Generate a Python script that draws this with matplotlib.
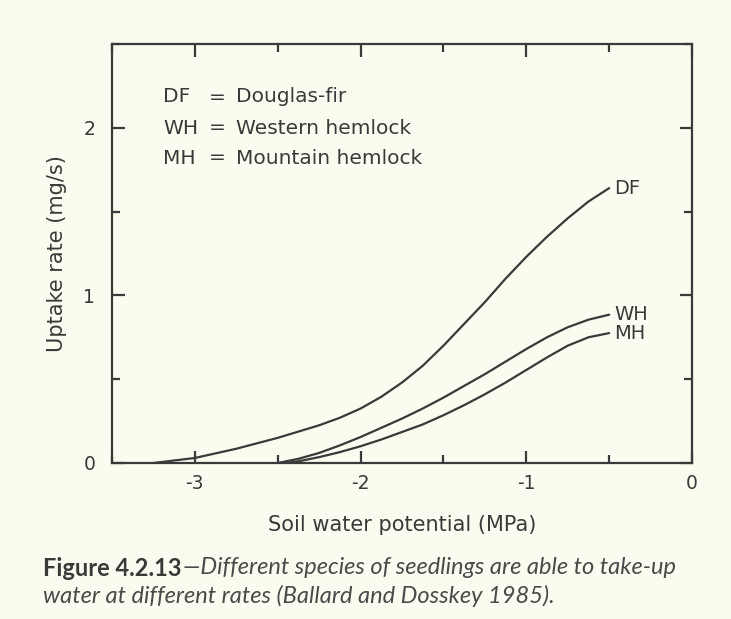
import numpy as np
import matplotlib
matplotlib.use("Agg")
import matplotlib.pyplot as plt
from matplotlib.ticker import MultipleLocator

plt.rcParams['font.family'] = ['DejaVu Sans']
plt.rcParams['axes.unicode_minus'] = False

# values (soil water potential, MPa -> uptake, mg/s)
df_x = [-3.25, -3.0, -2.75, -2.5, -2.25, -2.125, -2.0, -1.875, -1.75, -1.625, -1.5,
        -1.375, -1.25, -1.125, -1.0, -0.875, -0.75, -0.625, -0.5]
df_y = [0.0, 0.03, 0.085, 0.15, 0.225, 0.27, 0.325, 0.395, 0.48, 0.58, 0.70,
        0.83, 0.96, 1.10, 1.23, 1.35, 1.46, 1.56, 1.64]

wh_x = [-2.5, -2.375, -2.25, -2.125, -2.0, -1.875, -1.75, -1.625, -1.5,
        -1.375, -1.25, -1.125, -1.0, -0.875, -0.75, -0.625, -0.5]
wh_y = [0.0, 0.025, 0.06, 0.105, 0.155, 0.21, 0.265, 0.325, 0.39,
        0.46, 0.53, 0.605, 0.68, 0.75, 0.81, 0.855, 0.885]

mh_x = [-2.45, -2.375, -2.25, -2.125, -2.0, -1.875, -1.75, -1.625, -1.5,
        -1.375, -1.25, -1.125, -1.0, -0.875, -0.75, -0.625, -0.5]
mh_y = [0.0, 0.01, 0.035, 0.065, 0.10, 0.14, 0.185, 0.23, 0.285,
        0.345, 0.41, 0.48, 0.555, 0.63, 0.70, 0.75, 0.775]

series = [("DF", df_x, df_y), ("WH", wh_x, wh_y), ("MH", mh_x, mh_y)]
key_abbr = ["DF", "WH", "MH"]
key_names = ["Douglas-fir", "Western hemlock", "Mountain hemlock"]

bg = "#fcfbef"
ink = "#3a3a3a"

fig = plt.figure(figsize=(7.31, 6.19), dpi=100, facecolor=bg)
ax = fig.add_axes([112/731, 1-463/619, 580/731, 419/619], facecolor=bg)

for name, xs, ys in series:
    ax.plot(xs, ys, color=ink, lw=1.6, solid_capstyle='round')
    ax.text(xs[-1] + 0.03, ys[-1], name, fontsize=14, color=ink,
            ha='left', va='center')

ax.set_xlim(-3.5, 0)
ax.set_ylim(0, 2.5)
ax.xaxis.set_minor_locator(MultipleLocator(0.5))
ax.yaxis.set_minor_locator(MultipleLocator(0.5))
ax.set_xticks([-3, -2, -1, 0])
ax.set_xticklabels(["-3", "-2", "-1", "0"])
ax.set_yticks([0, 1, 2])

ax.tick_params(which='both', direction='in', top=True, right=True,
               color=ink, width=1.6, labelcolor=ink, labelsize=13.5)
ax.tick_params(which='major', length=9)
ax.tick_params(which='minor', length=6)
ax.tick_params(axis='x', pad=8)
ax.tick_params(axis='y', pad=12)
for s in ax.spines.values():
    s.set_color(ink)
    s.set_linewidth(1.6)

ax.set_xlabel("Soil water potential (MPa)", fontsize=15, color=ink, labelpad=16)
ax.set_ylabel("Uptake rate (mg/s)", fontsize=15, color=ink, labelpad=12)

# key inside the plot
key_y = [97, 128, 158]
for abbr, nm, py in zip(key_abbr, key_names, key_y):
    fy = 1 - py/619
    fig.text(163/731, fy, abbr, fontsize=14.5, color=ink, va='center')
    fig.text(209/731, fy, "=", fontsize=14.5, color=ink, va='center')
    fig.text(236/731, fy, nm, fontsize=14.5, color=ink, va='center')

# caption
cap_font = ['Lato', 'DejaVu Sans']
t1 = fig.text(43/731, 1-568/619, "Figure 4.2.13", fontsize=17, fontweight='bold',
              color="#3a3a3a", family=cap_font, va='center')
fig.canvas.draw()
bb = t1.get_window_extent()
fig.text(bb.x1/731 + 0.002, 1-568/619, "\u2014Different species of seedlings are able to take-up",
         fontsize=17, style='italic', color="#4a4a4a", family=cap_font, va='center')
fig.text(43/731, 1-596/619, "water at different rates (Ballard and Dosskey 1985).",
         fontsize=17, style='italic', color="#4a4a4a", family=cap_font, va='center')

fig.savefig("out.png", dpi=100, facecolor=bg)
